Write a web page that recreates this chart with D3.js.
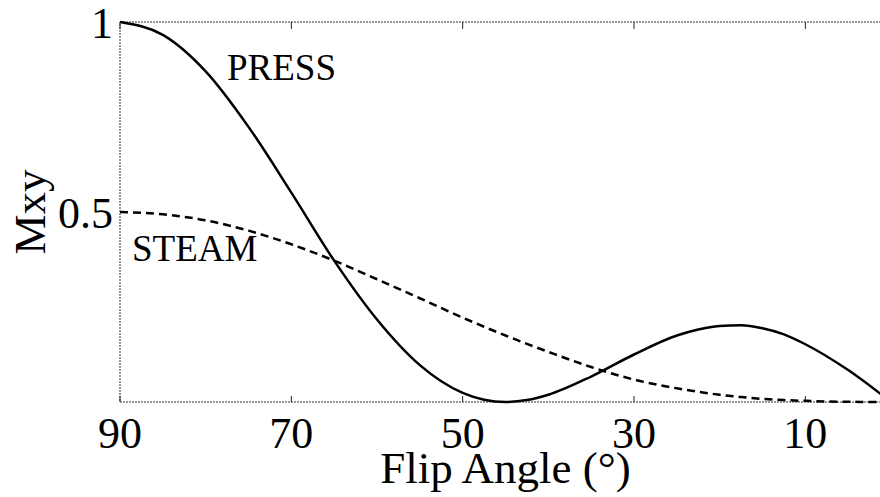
<!DOCTYPE html>
<html>
<head>
<meta charset="utf-8">
<script src="https://cdn.jsdelivr.net/npm/d3@7"></script>
<style>
  body { margin: 0; background: #fff; }
  text { font-family: "Liberation Serif", "Times New Roman", serif; fill: #000; }
</style>
</head>
<body>
<div id="chart"></div>
<script>
// flip angles (degrees)
var angles = [90, 85, 80, 75, 70, 65, 60, 55, 50, 47.5, 45, 42.5, 40, 35, 30, 25, 22.5, 20, 17.5, 15, 12.5, 10, 5, 0];
var pressVals = [1.0, 0.966, 0.87, 0.724, 0.551, 0.372, 0.217, 0.097, 0.024, 0.006, 0.0, 0.005, 0.019, 0.067, 0.125, 0.175, 0.191, 0.2, 0.202, 0.194, 0.178, 0.152, 0.084, 0.0];
var steamVals = [0.5, 0.494, 0.478, 0.451, 0.415, 0.372, 0.323, 0.273, 0.222, 0.198, 0.175, 0.153, 0.132, 0.092, 0.059, 0.036, 0.027, 0.019, 0.013, 0.008, 0.005, 0.003, 0.0005, 0.0];
var xTicks = [90, 70, 50, 30, 10];
var yTicks = [1, 0.5];

var width = 880;
var height = 497;

var svg = d3.select("#chart").append("svg")
    .attr("width", width)
    .attr("height", height);

var x = d3.scaleLinear().domain([90, 0]).range([120, 891]);
var y = d3.scaleLinear().domain([0, 1]).range([402, 22]);

// frame
var frame = svg.append("g")
    .attr("fill", "none")
    .attr("stroke", "#333")
    .attr("stroke-width", 1)
    .attr("stroke-dasharray", "2,1");

frame.append("rect")
    .attr("x", x(90))
    .attr("y", y(1))
    .attr("width", x(0) - x(90))
    .attr("height", y(0) - y(1));

// inward ticks, bottom and top
var tickG = svg.append("g").attr("stroke", "#222").attr("stroke-width", 1);

tickG.selectAll(".tb")
    .data(xTicks)
    .enter()
    .append("line")
    .attr("x1", d => x(d)).attr("x2", d => x(d))
    .attr("y1", y(0)).attr("y2", y(0) - 6);

tickG.selectAll(".tt")
    .data(xTicks)
    .enter()
    .append("line")
    .attr("x1", d => x(d)).attr("x2", d => x(d))
    .attr("y1", y(1)).attr("y2", y(1) + 7);

tickG.selectAll(".tl")
    .data(yTicks)
    .enter()
    .append("line")
    .attr("x1", x(90)).attr("x2", x(90) + 5)
    .attr("y1", d => y(d)).attr("y2", d => y(d));

// tick labels
svg.selectAll(".xl")
    .data(xTicks)
    .enter()
    .append("text")
    .attr("x", d => x(d))
    .attr("y", 448)
    .attr("text-anchor", "middle")
    .style("font-size", "44px")
    .text(d => d);

svg.selectAll(".yl")
    .data(yTicks)
    .enter()
    .append("text")
    .attr("x", 113)
    .attr("y", d => y(d))
    .attr("dy", "0.36em")
    .attr("text-anchor", "end")
    .style("font-size", "44px")
    .text(d => d);

// axis titles
svg.append("text")
    .attr("x", x(45))
    .attr("y", 483)
    .attr("text-anchor", "middle")
    .style("font-size", "45px")
    .text("Flip Angle (°)");

svg.append("text")
    .attr("transform", "translate(45,212)rotate(-90)")
    .attr("text-anchor", "middle")
    .style("font-size", "45px")
    .text("Mxy");

// curves
var press = angles.map((a, i) => [a, pressVals[i]]);
var steam = angles.map((a, i) => [a, steamVals[i]]);

var line = d3.line()
    .x(d => x(d[0]))
    .y(d => y(d[1]))
    .curve(d3.curveMonotoneX);

svg.append("path")
    .datum(press)
    .attr("d", line)
    .attr("fill", "none")
    .attr("stroke", "#000")
    .attr("stroke-width", 2.5);

svg.append("path")
    .datum(steam)
    .attr("d", line)
    .attr("fill", "none")
    .attr("stroke", "#000")
    .attr("stroke-width", 2.5)
    .attr("stroke-dasharray", "8,5");

// curve labels
svg.append("text")
    .attr("x", 227)
    .attr("y", 80)
    .style("font-size", "37px")
    .text("PRESS");

svg.append("text")
    .attr("x", 132)
    .attr("y", 261)
    .style("font-size", "37px")
    .text("STEAM");
</script>
</body>
</html>
